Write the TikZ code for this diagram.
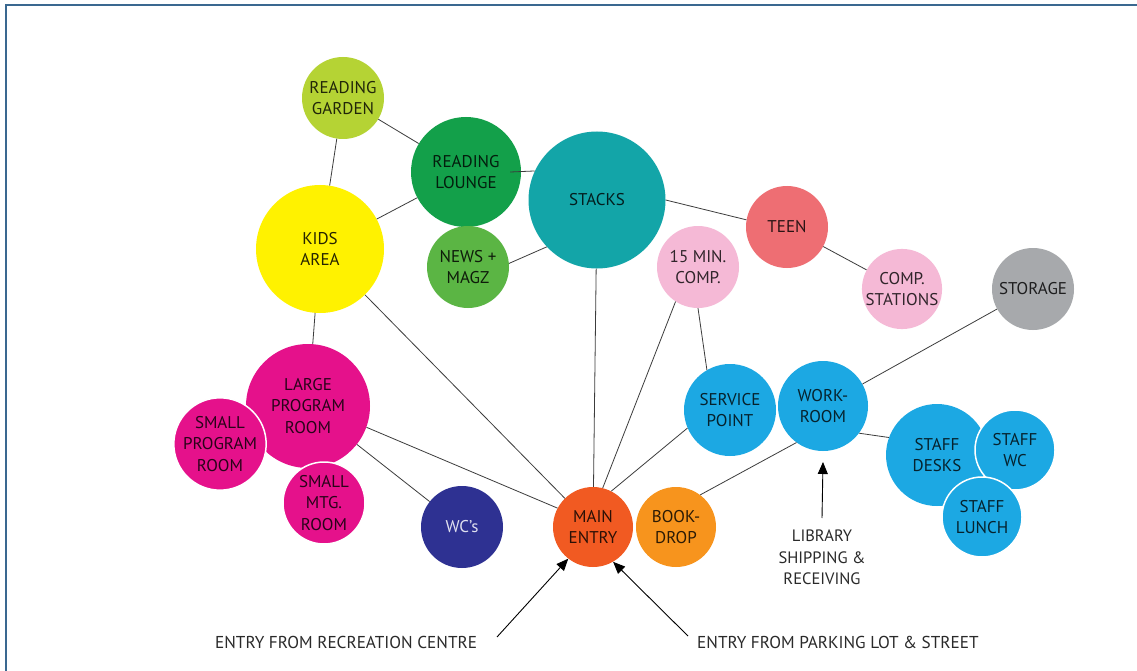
\documentclass[tikz,border=0pt]{standalone}
\usepackage{fontspec}
\setmainfont{PT Sans}
\usetikzlibrary{arrows.meta}
\definecolor{cGarden}{HTML}{B5D334}
\definecolor{cLounge}{HTML}{13A04A}
\definecolor{cNews}{HTML}{5BB544}
\definecolor{cStacks}{HTML}{13A5A8}
\definecolor{cKids}{HTML}{FFF200}
\definecolor{cTeen}{HTML}{EE6E73}
\definecolor{cPink}{HTML}{F5B9D6}
\definecolor{cStorage}{HTML}{A7A9AC}
\definecolor{cBlue}{HTML}{1CA8E3}
\definecolor{cMagenta}{HTML}{E5118B}
\definecolor{cWC}{HTML}{2E3192}
\definecolor{cMain}{HTML}{F15A22}
\definecolor{cDrop}{HTML}{F7941D}
\definecolor{cFrame}{HTML}{3A6890}
\definecolor{cLine}{HTML}{3C3C3C}
\definecolor{cLabel}{HTML}{2A2A2A}
\tikzset{
  bub/.style={circle, inner sep=0pt, align=center,
    font=\fontsize{17}{21.5}\selectfont},
  link/.style={draw=cLine, line width=0.8pt},
  entryarrow/.style={draw=black, line width=0.9pt, -{Triangle[width=10pt,length=12pt]}},
  lbl/.style={text=cLabel, align=center, inner sep=0pt, font=\fontsize{16.5}{21.5}\selectfont},
  biglbl/.style={lbl, font=\fontsize{17.2}{21}\selectfont},
  ring/.style={draw=white, line width=1.5pt}
}
\begin{document}
\begin{tikzpicture}[x=1pt,y=-1pt]
\useasboundingbox (0,0) rectangle (1137,671);
\fill[white] (0,0) rectangle (1137,671);
\draw[cFrame, line width=2pt] (6,671) -- (6,5) -- (1137,5);

% nodes
\node[bub, fill=cGarden, text=cGarden!18!black, minimum size=82pt] (garden) at (343,98) {READING\\GARDEN};
\node[bub, fill=cLounge, text=cLounge!18!black, minimum size=110pt] (lounge) at (466,172) {READING\\LOUNGE};
\node[bub, fill=cNews, text=cNews!15!black, minimum size=82pt] (news) at (468,267) {NEWS +\\MAGZ};
\node[bub, fill=cStacks, text=cStacks!18!black, minimum size=137pt] (stacks) at (597,200) {STACKS};
\node[bub, fill=cKids, text=cKids!15!black, minimum size=128pt] (kids) at (320,249) {KIDS\\AREA};
\node[bub, fill=cTeen, text=cTeen!18!black, minimum size=82pt] (teen) at (787,227) {TEEN};
\node[bub, fill=cPink, text=cPink!20!black, minimum size=82pt] (comp15) at (698,267) {15 MIN.\\COMP.};
\node[bub, fill=cPink, text=cPink!20!black, minimum size=80pt] (stations) at (902,289) {COMP.\\STATIONS};
\node[bub, fill=cStorage, text=cStorage!18!black, minimum size=82pt] (storage) at (1033,289) {STORAGE};
\node[bub, fill=cBlue, text=cBlue!20!black, minimum size=92pt] (service) at (730,410) {SERVICE\\POINT};
\node[bub, fill=cBlue, text=cBlue!20!black, minimum size=90pt] (work) at (823,406) {WORK-\\ROOM};
\node[bub, fill=cBlue, text=cBlue!20!black, minimum size=102pt] (desks) at (937,455) {STAFF\\DESKS};
\node[bub, ring, fill=cBlue, text=cBlue!20!black, minimum size=80pt] (staffwc) at (1015,450) {STAFF\\WC};
\node[bub, ring, fill=cBlue, text=cBlue!20!black, minimum size=80pt] (lunch) at (982,517) {STAFF\\LUNCH};
\node[bub, fill=cMagenta, text=cMagenta!18!black, minimum size=124pt] (large) at (308,406) {LARGE\\PROGRAM\\ROOM};
\node[bub, ring, fill=cMagenta, text=cMagenta!18!black, minimum size=80pt] (small) at (220,444) {SMALL\\PROGRAM\\ROOM};
\node[bub, ring, fill=cMagenta, text=cMagenta!18!black, minimum size=82pt] (mtg) at (324,503) {SMALL\\MTG.\\ROOM};
\node[bub, fill=cWC, text=white!85!cWC, minimum size=82pt] (wcs) at (462,527) {WC's};
\node[bub, fill=cMain, text=cMain!18!black, minimum size=80pt] (main) at (593,527) {MAIN\\ENTRY};
\node[bub, fill=cDrop, text=cDrop!18!black, minimum size=80pt] (drop) at (676,527) {BOOK-\\DROP};

% connectors
\draw[link] (garden) -- (lounge);
\draw[link] (garden) -- (kids);
\draw[link] (lounge) -- (kids);
\draw[link] ([xshift=-11pt]lounge.east) -- (stacks.155);
\draw[link] (news.5) -- (stacks.223);
\draw[link] (stacks.0) -- (teen.170);
\draw[link] (teen) -- (stations);
\draw[link] (stacks) -- (main);
\draw[link] (kids) -- (main);
\draw[link] (kids) -- (large);
\draw[link] (large.-20) -- (main.152);
\draw[link] (large) -- (wcs);
\draw[link] (comp15.237) -- (main.76);
\draw[link] (comp15.270) -- (service.120);
\draw[link] (service.203) -- (main.63);
\draw[link] (work.234) -- (drop.53);
\draw[link] (work) -- (storage);
\draw[link] (work.-37) -- (desks.160);

% labels and arrows
\node[lbl, anchor=north] (ship) at (822,530) {LIBRARY\\SHIPPING \&\\RECEIVING};
\coordinate (shiptail) at (822,518);
\draw[entryarrow] (shiptail) -- (work.south |- 0,462);
\node[biglbl, anchor=west] (rec) at (215,642) {ENTRY FROM RECREATION CENTRE};
\node[biglbl, anchor=west] (park) at (697,642) {ENTRY FROM PARKING LOT \& STREET};
\coordinate (rectail) at (497,637);
\coordinate (parktail) at (688,636);
\draw[entryarrow] (rectail) -- (main.232);
\draw[entryarrow] (parktail) -- (main.300);
\end{tikzpicture}
\end{document}
